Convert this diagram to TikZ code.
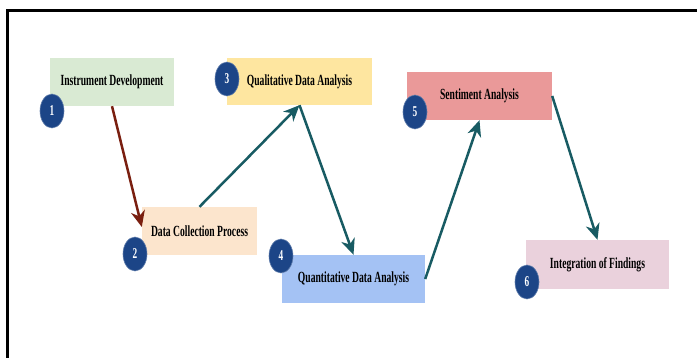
\documentclass[tikz,border=0pt]{standalone}
\usepackage{fontspec}
\newfontfamily\lblfont[FakeStretch=0.62]{Liberation Serif}
\usetikzlibrary{arrows.meta,shapes.geometric}
\definecolor{cgreen}{HTML}{D9EAD3}
\definecolor{cpeach}{HTML}{FCE5CD}
\definecolor{cyellow}{HTML}{FEE6A0}
\definecolor{cblue}{HTML}{A4C2F4}
\definecolor{cred}{HTML}{EA9999}
\definecolor{cpink}{HTML}{EAD1DC}
\definecolor{cnum}{HTML}{1C4587}
\definecolor{cteal}{HTML}{185B63}
\definecolor{cbrown}{HTML}{7A1F10}
\tikzset{
  stepbox/.style={draw=none, inner sep=0pt, minimum height=48pt,
    font=\lblfont\bfseries\fontsize{15.5}{18}\selectfont, text=black},
  numdot/.style={ellipse, fill=cnum, draw=cnum!70!white, line width=0.6pt,
    minimum width=24pt, minimum height=34pt, inner sep=0pt,
    font=\lblfont\bfseries\fontsize{15}{17}\selectfont, text=white},
  flow/.style={line width=2.5pt, cteal, -{Stealth[length=16pt,width=14pt,inset=5pt]}},
}
\begin{document}
\begin{tikzpicture}[x=1pt,y=-1pt]
\useasboundingbox (0,0) rectangle (697,358);
\fill[white] (0,0) rectangle (697,358);
% frame
\draw[line width=2.5pt, black] (7.5,358) -- (7.5,10.5) -- (697,10.5);
% boxes
\node[stepbox, fill=cgreen,  minimum width=124pt] (b1) at (112,82) {Instrument Development};
\node[stepbox, fill=cpeach,  minimum width=115pt] (b2) at (199.5,231) {Data Collection Process};
\node[stepbox, fill=cyellow, minimum width=145pt, minimum height=47pt] (b3) at (299.5,81.5) {Qualitative Data Analysis};
\node[stepbox, fill=cblue,   minimum width=143pt] (b4) at (353.5,279) {Quantitative Data Analysis};
\node[stepbox, fill=cred,    minimum width=145pt] (b5) at (479.5,96) {Sentiment Analysis};
\node[stepbox, fill=cpink,   minimum width=143pt, minimum height=49pt] (b6) at (597.5,264.5) {Integration of Findings};
% numbers
\node[numdot] (n1) at (52,111) {1};
\node[numdot] (n2) at (135,254) {2};
\node[numdot] (n3) at (227,79) {3};
\node[numdot] (n4) at (281,256) {4};
\node[numdot] (n5) at (415,112) {5};
\node[numdot] (n6) at (527,282) {6};
% connectors
\draw[flow, cbrown] (b1.south) -- (b2.176);
\draw[flow] (b2.north) -- (b3.south);
\draw[flow] (b3.south) -- (b4.north);
\draw[flow] (b4.east) -- (b5.south);
\draw[flow] (b5.east) -- (b6.north);
\end{tikzpicture}
\end{document}
